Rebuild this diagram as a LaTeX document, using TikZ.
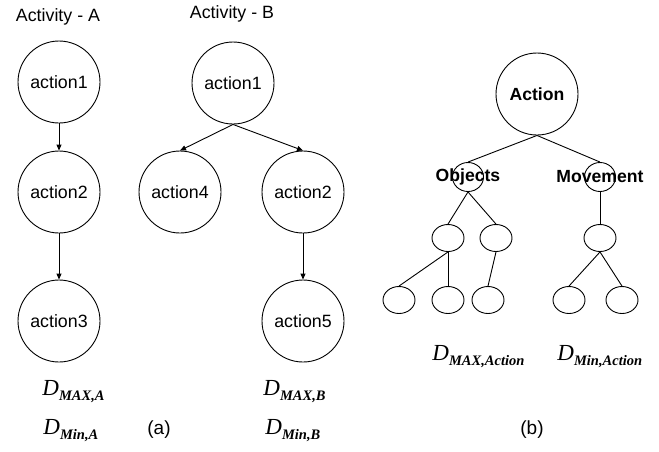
\documentclass[tikz,border=0pt]{standalone}
\usepackage{fontspec}
\setmainfont{Liberation Serif}
\setsansfont{Liberation Sans}
\usetikzlibrary{arrows.meta,shapes.geometric}
\newcommand{\dval}[1]{\fontsize{23}{24}\selectfont\textit{D}\raisebox{-5pt}{\fontsize{14.5}{15}\selectfont\bfseries\itshape #1}}

\begin{document}
\begin{tikzpicture}[
  x=1pt, y=-1pt,
  line width=0.9pt,
  font=\sffamily\fontsize{17.8}{20}\selectfont,
  action/.style = {draw,circle,minimum size=82pt,inner sep=0pt},
  leaf/.style = {draw,ellipse,minimum width=32pt,minimum height=27pt,inner sep=0pt},
  feature/.style = {leaf,minimum width=31pt,minimum height=29pt,
    label={[font=\sffamily\bfseries\fontsize{17.6}{20}\selectfont]center:#1}},
  measure/.style = {anchor=base west,inner sep=0pt,font=\rmfamily},
  flow/.style = {-{Triangle[length=6pt,width=5pt]}}
  ]
  \useasboundingbox (0,0) rectangle (659,451);
  % (a) activity A
  \node (TA) at (58,17) {Activity - A};
  \node[action] (A1) at (59,82) {action1};
  \node[action] (A2) at (59,192) {action2};
  \node[action] (A3) at (59,321) {action3};
  \draw[flow] (A1) -- (A2);
  \draw[flow] (A2) -- (A3);
  % (a) activity B
  \node (TB) at (232,14) {Activity - B};
  \node[action] (B1) at (233,83) {action1};
  \node[action] (B4) at (180,192) {action4};
  \node[action] (B2) at (303,192) {action2};
  \node[action] (B5) at (303,321) {action5};
  \draw[flow] (B1.south) -- (B4.north);
  \draw[flow] (B1.south) -- (B2.north);
  \draw[flow] (B2) -- (B5);
  % (b) action tree
  \node[action,font=\sffamily\bfseries\fontsize{17.6}{20}\selectfont] (Act) at (537,94) {Action};
  \node[feature=Objects]  (Obj) at (468,177) {};
  \node[feature=Movement] (Mov) at (600,177) {};
  \node[leaf] (O1)  at (448,238) {};
  \node[leaf] (O2)  at (496,238) {};
  \node[leaf] (M1)  at (600,238) {};
  \node[leaf] (O11) at (399,300) {};
  \node[leaf] (O12) at (448,300) {};
  \node[leaf] (O21) at (488,300) {};
  \node[leaf] (M11) at (569,300) {};
  \node[leaf] (M12) at (622,300) {};
  \foreach \a/\b in {Act/Obj,Act/Mov,Obj/O1,Obj/O2,Mov/M1,
                     O1/O11,O1/O12,O2/O21,M1/M11,M1/M12}
    \draw (\a.south) -- (\b.north);
  % measures and captions
  \node[measure] (DA1) at (42,395) {\dval{MAX,A}};
  \node[measure] (DA2) at (43,434) {\dval{Min,A}};
  \node[measure] (DB1) at (263,395) {\dval{MAX,B}};
  \node[measure] (DB2) at (265,434) {\dval{Min,B}};
  \node[measure] (DC1) at (432,360) {\dval{MAX,Action}};
  \node[measure] (DC2) at (557,360) {\dval{Min,Action}};
  \node[font=\sffamily\fontsize{19}{20}\selectfont] (La) at (159,430) {(a)};
  \node[font=\sffamily\fontsize{19}{20}\selectfont] (Lb) at (532,430) {(b)};
\end{tikzpicture}
\end{document}
